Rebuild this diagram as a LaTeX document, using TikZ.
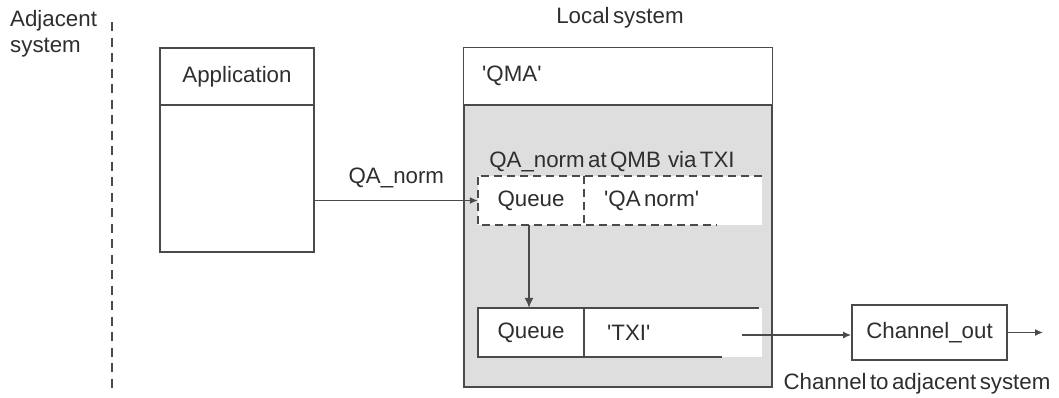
\documentclass[tikz,border=0pt]{standalone}
\usepackage{fontspec}
\setmainfont[WordSpace=0.55]{Liberation Sans}
\usetikzlibrary{arrows.meta}
\definecolor{txt}{HTML}{2E2E2E}
\definecolor{ln}{HTML}{4A4A4A}
\definecolor{shade}{HTML}{DEDEDE}
\newcommand{\sq}{\textquotesingle}
\begin{document}
\begin{tikzpicture}[x=1pt,y=-1pt,
  every node/.style={text=txt,font=\fontsize{22.3}{26}\selectfont,inner sep=0pt},
  box/.style={draw=ln,line width=1.8pt,rectangle},
  cell/.style={rectangle,fill=white,minimum height=49pt},
  line/.style={draw=ln,line width=1.8pt},
  dline/.style={draw=ln,line width=1.8pt,dash pattern=on 8pt off 5pt},
  arr/.style={draw=ln,line width=1.3pt,-{Latex[length=8pt,width=7pt]}}]
\useasboundingbox (0,0) rectangle (1059,397);
% Adjacent system
\node[anchor=north west,align=left] (adj) at (10,10) {Adjacent\\system};
\coordinate (dtop) at (112,22);
\coordinate (dbot) at (112,390);
\draw[line,line width=1.5pt,dash pattern=on 9pt off 6.5pt] (dtop) -- (dbot);
% Application
\node[box,minimum width=154pt,minimum height=204pt] (app) at (237,150) {};
\draw[line] (app.north west |- 0,105) -- (app.north east |- 0,105);
\node (apptxt) at (237,77) {Application};
% Local system
\node (loctxt) at (620,18) {Local system};
\node[box,fill=shade,minimum width=308pt,minimum height=339pt] (loc) at (618,217.5) {};
\fill[white] ([shift={(0.9pt,-0.9pt)}]loc.north west) rectangle ([shift={(-0.9pt,0pt)}]loc.north east |- 0,105);
\draw[line] (loc.north west |- 0,105) -- (loc.north east |- 0,105);
\node[anchor=west] (qma) at (482,76) {\sq QMA\sq};
\node (via) at (612,162) {QA\_norm at QMB\, via TXI};
% dashed queue box
\node[cell,minimum width=284pt] (qbox1) at (620,200.5) {};
\node[cell,minimum width=106pt] (q1) at (531,200.5) {Queue};
\node[anchor=west] (qan) at (604,200.5) {\sq QA norm\sq};
\draw[dline] (qbox1.north east) -- (qbox1.north west) -- (qbox1.south west) -- ([xshift=-45pt]qbox1.south east);
\draw[dline] (q1.north east) -- (q1.south east);
% TXI queue box
\node[cell,minimum width=284pt] (qbox2) at (620,332.5) {};
\node[cell,minimum width=106pt] (q2) at (531,332.5) {Queue};
\node[anchor=west] (txi) at (607,332.5) {\sq TXI\sq};
\draw[line] ([xshift=-3pt]qbox2.north east) -- (qbox2.north west) -- (qbox2.south west) -- ([xshift=-40pt]qbox2.south east);
\draw[line] (q2.north east) -- (q2.south east);
% Channel
\node[box,minimum width=155pt,minimum height=55pt] (chan) at (929.5,332.5) {Channel\_out};
\node (chantxt) at (917,384) {Channel to adjacent system};
\coordinate (txiout) at (742,335);
\coordinate (chanend) at (1043,332.5);
% connectors
\draw[arr] (app.east |- qbox1.west) -- node[above=12pt] {QA\_norm} (qbox1.west);
\draw[line,line width=1.5pt,-{Latex[length=10pt,width=9pt]}] (q1.south -| 529,0) -- (q2.north -| 529,0);
\draw[arr] (txiout) -- (chan.west |- txiout);
\draw[arr] (chan.east) -- (chanend);
\end{tikzpicture}
\end{document}
